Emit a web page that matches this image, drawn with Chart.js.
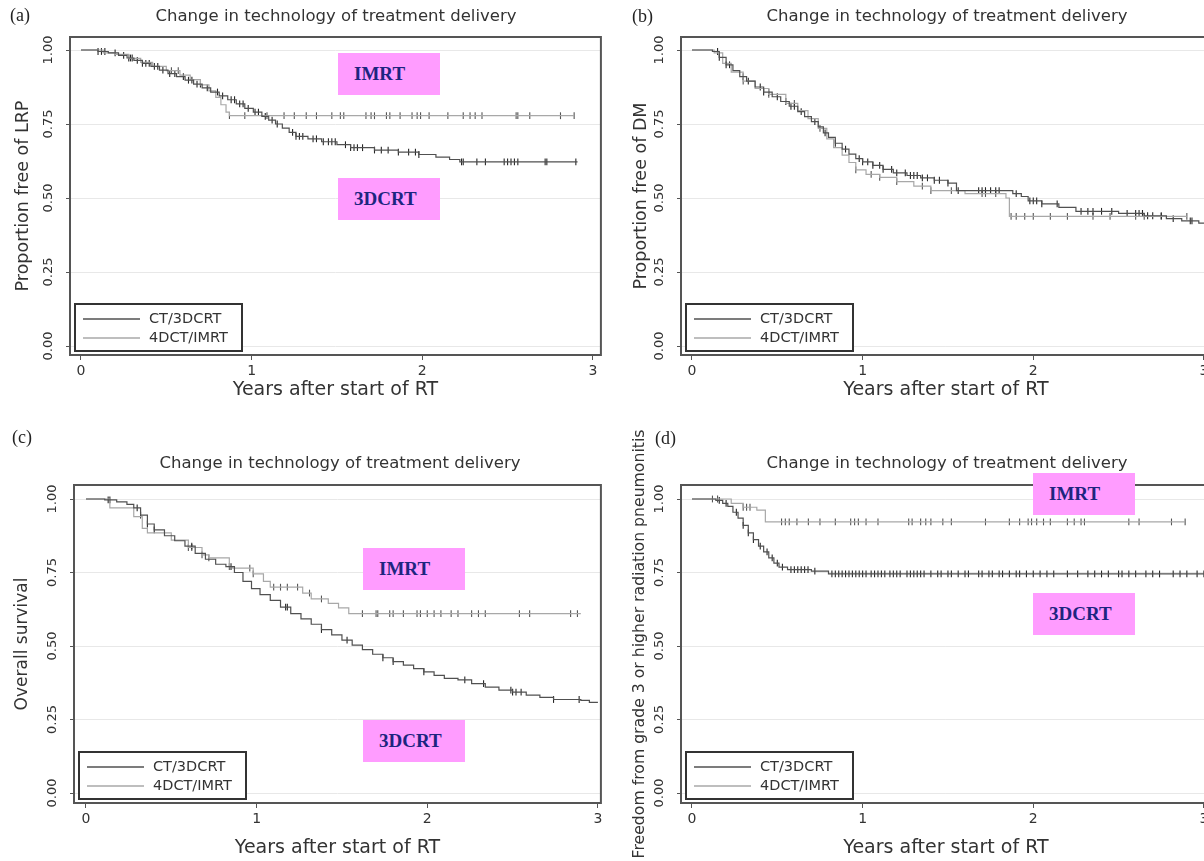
<!DOCTYPE html>
<html lang="en">
<head>
  <meta charset="UTF-8" />
  <title>Change in technology of treatment delivery</title>
  <script src="https://cdn.jsdelivr.net/npm/chart.js@4"></script>
  <style>
    body {
      margin: 0;
      background: #fff;
      font-family: 'DejaVu Sans', sans-serif;
      color: #333;
    }
    #fig {
      position: relative;
      width: 1204px;
      height: 861px;
      overflow: hidden;
    }
    #fig canvas { position: absolute; }
    .letter {
      position: absolute;
      font-family: 'Liberation Serif', serif;
      font-size: 18px;
      line-height: 20px;
      color: #222;
    }
    .title {
      position: absolute;
      width: 500px;
      text-align: center;
      font-size: 16.5px;
      line-height: 18px;
      color: #333;
    }
    .tag {
      position: absolute;
      width: 86px;
      height: 42px;
      padding-left: 16px;
      background: #ff9cff;
      color: #1d2580;
      font-family: 'Liberation Serif', serif;
      font-weight: bold;
      font-size: 19px;
      line-height: 42px;
    }
  </style>
</head>
<body>
  <div id="fig">
    <canvas id="ca" width="606" height="405" style="left:0;top:0"></canvas>
    <canvas id="cb" width="606" height="405" style="left:610px;top:0"></canvas>
    <canvas id="cc" width="606" height="431" style="left:0;top:430px"></canvas>
    <canvas id="cd" width="606" height="431" style="left:610px;top:430px"></canvas>

    <div class="letter" style="left:10px;top:5px">(a)</div>
    <div class="letter" style="left:632px;top:6px">(b)</div>
    <div class="letter" style="left:12px;top:427px">(c)</div>
    <div class="letter" style="left:655px;top:428px">(d)</div>

    <div class="title" style="left:86px;top:7px">Change in technology of treatment delivery</div>
    <div class="title" style="left:697px;top:7px">Change in technology of treatment delivery</div>
    <div class="title" style="left:90px;top:454px">Change in technology of treatment delivery</div>
    <div class="title" style="left:697px;top:454px">Change in technology of treatment delivery</div>

    <div class="tag" style="left:338px;top:53px">IMRT</div>
    <div class="tag" style="left:338px;top:178px">3DCRT</div>
    <div class="tag" style="left:363px;top:548px">IMRT</div>
    <div class="tag" style="left:363px;top:720px">3DCRT</div>
    <div class="tag" style="left:1033px;top:473px">IMRT</div>
    <div class="tag" style="left:1033px;top:593px">3DCRT</div>
  </div>

  <script>
    // axis ticks and series names
    const xTickValues = [0, 1, 2, 3];
    const yTickValues = [0, 0.25, 0.5, 0.75, 1];
    const seriesNames = ["CT/3DCRT", "4DCT/IMRT"];

    // (a) proportion free of LRP: [years, survival]
    const lrpCt = [[0,1],[0.10,0.995],[0.16,0.99],[0.22,0.982],[0.27,0.973],[0.31,0.965],[0.36,0.955],[0.41,0.945],[0.46,0.932],[0.51,0.92],[0.56,0.91],[0.61,0.898],[0.66,0.885],[0.71,0.872],[0.76,0.858],[0.81,0.845],[0.86,0.832],[0.91,0.818],[0.96,0.803],[1.01,0.79],[1.06,0.776],[1.10,0.763],[1.14,0.75],[1.18,0.736],[1.22,0.722],[1.26,0.708],[1.33,0.70],[1.41,0.69],[1.50,0.68],[1.58,0.67],[1.72,0.662],[1.86,0.655],[1.98,0.647],[2.08,0.638],[2.16,0.63],[2.22,0.622],[2.91,0.622]];
    const lrpIm = [[0,1],[0.13,0.99],[0.2,0.985],[0.28,0.972],[0.35,0.958],[0.42,0.945],[0.5,0.93],[0.58,0.915],[0.64,0.9],[0.7,0.882],[0.75,0.862],[0.79,0.84],[0.82,0.815],[0.85,0.79],[0.87,0.778],[2.89,0.778]];
    const lrpCtCens = [0.10,0.12,0.14,0.2,0.25,0.28,0.29,0.3,0.33,0.36,0.38,0.4,0.43,0.45,0.48,0.52,0.55,0.6,0.63,0.65,0.68,0.7,0.74,0.8,0.83,0.88,0.9,0.93,0.95,0.98,1.02,1.04,1.08,1.12,1.15,1.24,1.26,1.28,1.3,1.36,1.38,1.42,1.45,1.47,1.49,1.55,1.58,1.6,1.62,1.65,1.72,1.76,1.8,1.86,1.92,1.96,1.98,2.23,2.24,2.32,2.37,2.48,2.5,2.52,2.54,2.56,2.72,2.73,2.9];
    const lrpImCens = [0.53,0.57,0.87,0.96,1.09,1.19,1.25,1.32,1.38,1.47,1.52,1.54,1.67,1.70,1.72,1.79,1.81,1.87,1.94,1.97,1.99,2.04,2.15,2.24,2.28,2.31,2.35,2.55,2.56,2.63,2.81,2.89];

    // (b) proportion free of DM
    const dmCt = [[0,1],[0.12,0.995],[0.16,0.975],[0.2,0.95],[0.24,0.93],[0.28,0.91],[0.32,0.895],[0.37,0.875],[0.42,0.858],[0.47,0.842],[0.52,0.826],[0.57,0.81],[0.62,0.792],[0.66,0.775],[0.7,0.758],[0.74,0.74],[0.77,0.72],[0.8,0.705],[0.84,0.685],[0.88,0.665],[0.92,0.648],[0.96,0.633],[1.0,0.622],[1.06,0.61],[1.12,0.597],[1.18,0.585],[1.26,0.576],[1.34,0.568],[1.42,0.56],[1.5,0.55],[1.55,0.525],[1.88,0.515],[1.93,0.505],[1.97,0.49],[2.05,0.48],[2.15,0.468],[2.25,0.455],[2.5,0.448],[2.65,0.44],[2.78,0.43],[2.87,0.423],[2.97,0.415],[3.05,0.415]];
    const dmIm = [[0,1],[0.13,0.99],[0.18,0.955],[0.23,0.925],[0.3,0.895],[0.37,0.87],[0.45,0.85],[0.55,0.82],[0.62,0.795],[0.68,0.768],[0.74,0.735],[0.79,0.7],[0.83,0.67],[0.88,0.645],[0.92,0.62],[0.96,0.595],[1.02,0.58],[1.1,0.57],[1.2,0.555],[1.3,0.54],[1.4,0.525],[1.6,0.515],[1.84,0.5],[1.86,0.438],[2.9,0.438]];
    const dmCtCens = [0.15,0.16,0.2,0.22,0.3,0.33,0.4,0.42,0.45,0.5,0.55,0.58,0.6,0.64,0.72,0.78,0.84,0.9,0.98,1.0,1.03,1.06,1.1,1.12,1.17,1.2,1.25,1.28,1.3,1.32,1.35,1.38,1.42,1.45,1.5,1.56,1.68,1.7,1.72,1.75,1.78,1.8,1.9,1.98,2.0,2.02,2.05,2.14,2.28,2.32,2.35,2.4,2.46,2.55,2.6,2.62,2.64,2.67,2.7,2.75,2.82,2.92,2.93];
    const dmImCens = [0.3,0.45,0.6,0.75,0.96,1.05,1.1,1.2,1.35,1.4,1.52,1.7,1.72,1.78,1.87,1.9,1.95,2.0,2.1,2.2,2.35,2.45,2.6,2.65,2.75,2.9];

    // (c) overall survival
    const osCt = [[0,1],[0.11,0.997],[0.18,0.99],[0.24,0.982],[0.28,0.97],[0.32,0.945],[0.36,0.915],[0.4,0.895],[0.46,0.875],[0.52,0.858],[0.58,0.84],[0.64,0.815],[0.7,0.795],[0.76,0.778],[0.82,0.77],[0.87,0.75],[0.92,0.72],[0.97,0.695],[1.02,0.675],[1.08,0.655],[1.14,0.632],[1.2,0.61],[1.26,0.592],[1.32,0.574],[1.38,0.556],[1.44,0.538],[1.5,0.52],[1.56,0.503],[1.62,0.488],[1.68,0.472],[1.74,0.46],[1.8,0.447],[1.86,0.435],[1.92,0.423],[1.98,0.412],[2.04,0.4],[2.1,0.39],[2.18,0.385],[2.26,0.372],[2.34,0.36],[2.42,0.35],[2.5,0.343],[2.58,0.333],[2.66,0.325],[2.74,0.318],[2.9,0.315],[2.95,0.308],[3.0,0.308]];
    const osIm = [[0,1],[0.14,0.97],[0.28,0.94],[0.33,0.9],[0.36,0.885],[0.5,0.86],[0.6,0.835],[0.68,0.81],[0.72,0.8],[0.84,0.77],[0.86,0.765],[0.98,0.745],[1.04,0.72],[1.08,0.7],[1.27,0.68],[1.32,0.66],[1.42,0.645],[1.48,0.63],[1.54,0.61],[2.9,0.61]];
    const osCtCens = [0.13,0.14,0.3,0.32,0.36,0.4,0.62,0.85,1.17,1.18,1.38,1.53,1.74,1.8,1.98,2.22,2.33,2.49,2.5,2.52,2.55,2.74,2.89];
    const osImCens = [0.6,0.62,0.68,0.72,0.84,0.96,0.98,1.1,1.14,1.18,1.24,1.31,1.38,1.62,1.7,1.71,1.78,1.8,1.86,1.94,1.96,2.0,2.04,2.08,2.14,2.18,2.26,2.3,2.34,2.54,2.6,2.84,2.88];

    // (d) freedom from grade >= 3 radiation pneumonitis
    const rpCt = [[0,1],[0.14,0.995],[0.18,0.985],[0.21,0.975],[0.24,0.955],[0.27,0.935],[0.3,0.91],[0.33,0.885],[0.36,0.862],[0.39,0.84],[0.42,0.82],[0.45,0.8],[0.48,0.782],[0.51,0.768],[0.56,0.76],[0.7,0.755],[0.8,0.745],[3.05,0.745]];
    const rpIm = [[0,1],[0.23,0.985],[0.3,0.972],[0.38,0.962],[0.43,0.922],[2.89,0.922]];
    const rpCtCens = [0.16,0.2,0.26,0.3,0.33,0.36,0.4,0.44,0.47,0.5,0.53,0.58,0.6,0.62,0.64,0.66,0.68,0.72,0.82,0.84,0.86,0.88,0.9,0.92,0.94,0.96,0.98,1.0,1.02,1.05,1.07,1.09,1.11,1.13,1.16,1.18,1.2,1.22,1.26,1.28,1.3,1.32,1.34,1.36,1.4,1.44,1.46,1.5,1.52,1.56,1.6,1.62,1.68,1.7,1.74,1.76,1.8,1.82,1.86,1.9,1.92,1.96,2.0,2.04,2.08,2.12,2.2,2.26,2.32,2.36,2.4,2.44,2.5,2.52,2.56,2.6,2.66,2.7,2.74,2.82,2.86,2.9,2.96,3.0];
    const rpImCens = [0.12,0.15,0.3,0.32,0.34,0.525,0.547,0.57,0.615,0.682,0.75,0.84,0.93,0.953,0.975,1.02,1.09,1.27,1.29,1.34,1.37,1.4,1.47,1.52,1.72,1.86,1.92,1.97,1.99,2.02,2.06,2.1,2.2,2.24,2.28,2.3,2.56,2.62,2.81,2.89];

    const lineColors = ["#505050", "#a8a8a8"];
    const markColors = ["#262626", "#555555"];

    // value of a step curve at time t
    function survAt(curve, t) {
      let s = curve[0][1];
      for (const [time, surv] of curve) {
        if (time <= t) s = surv; else break;
      }
      return s;
    }

    // box round the plot and the legend in the lower left corner
    const framePlugin = {
      id: "frame",
      afterDatasetsDraw(chart) {
        const { ctx, chartArea: a } = chart;
        ctx.save();
        ctx.strokeStyle = "#555";
        ctx.lineWidth = 2;
        ctx.strokeRect(a.left, a.top, a.right - a.left, a.bottom - a.top);
        ctx.restore();
      },
      afterDraw(chart) {
        const { ctx, chartArea: a } = chart;
        const x = a.left + 5, y = a.bottom - 51, w = 167, h = 47;
        ctx.save();
        ctx.fillStyle = "#fff";
        ctx.fillRect(x, y, w, h);
        ctx.strokeStyle = "#333";
        ctx.lineWidth = 2;
        ctx.strokeRect(x, y, w, h);
        ctx.font = "14.5px 'DejaVu Sans'";
        ctx.textBaseline = "middle";
        chart.data.datasets.filter(d => !d.censor).forEach((d, i) => {
          const ly = y + 15 + i * 19;
          ctx.strokeStyle = d.borderColor;
          ctx.lineWidth = 1.4;
          ctx.beginPath();
          ctx.moveTo(x + 8, ly);
          ctx.lineTo(x + 65, ly);
          ctx.stroke();
          ctx.fillStyle = "#333";
          ctx.fillText(d.label, x + 74, ly);
        });
        ctx.restore();
      }
    };

    // page geometry of each panel (canvas and plot box)
    const panels = [
      { id: "ca", left: 0, top: 0, width: 606, height: 405, box: [70, 37, 602, 355], x0: 81, yTop: 50, yBot: 346,
        yTitle: "Proportion free of LRP", ySize: 17.5, yPad: 12.5, xPad: 4, curves: [lrpCt, lrpIm], cens: [lrpCtCens, lrpImCens] },
      { id: "cb", left: 610, top: 0, width: 606, height: 405, box: [681, 37, 1212, 355], x0: 692, yTop: 50, yBot: 346,
        yTitle: "Proportion free of DM", ySize: 17.5, yPad: 20.5, xPad: 4, curves: [dmCt, dmIm], cens: [dmCtCens, dmImCens] },
      { id: "cc", left: 0, top: 430, width: 606, height: 431, box: [74, 485, 602, 803], x0: 86, yTop: 499, yBot: 793,
        yTitle: "Overall survival", ySize: 17, yPad: 12.8, xPad: 1.6, curves: [osCt, osIm], cens: [osCtCens, osImCens] },
      { id: "cd", left: 610, top: 430, width: 606, height: 431, box: [681, 485, 1212, 803], x0: 692, yTop: 499, yBot: 793,
        yTitle: "Freedom from grade 3 or higher radiation pneumonitis", ySize: 15.7, yPad: 20.6, xPad: 1.6, curves: [rpCt, rpIm], cens: [rpCtCens, rpImCens] }
    ];

    const pxPerYear = 171;

    panels.forEach(p => {
      const [L, T, R, B] = p.box;
      const yPer = p.yBot - p.yTop;

      const datasets = [];
      p.curves.forEach((curve, i) => {
        datasets.push({
          label: seriesNames[i],
          data: curve.map(([x, y]) => ({ x, y })),
          borderColor: lineColors[i],
          borderWidth: 1.2,
          stepped: true,
          pointRadius: 0,
          fill: false
        });
      });
      p.cens.forEach((times, i) => {
        datasets.push({
          label: seriesNames[i] + " censored",
          censor: true,
          data: times.map(t => ({ x: t, y: survAt(p.curves[i], t) })),
          showLine: false,
          pointStyle: "line",
          rotation: 90,
          pointRadius: 3.4,
          pointBorderWidth: 1.1,
          borderColor: markColors[i],
          backgroundColor: markColors[i]
        });
      });

      new Chart(document.getElementById(p.id), {
        type: "line",
        data: { datasets },
        options: {
          responsive: false,
          animation: false,
          events: [],
          layout: { padding: { top: T - p.top, right: p.left + p.width - R, left: 0, bottom: 0 } },
          plugins: { legend: { display: false }, tooltip: { enabled: false } },
          scales: {
            x: {
              type: "linear",
              min: (L - p.x0) / pxPerYear,
              max: (R - p.x0) / pxPerYear,
              afterBuildTicks: s => { s.ticks = xTickValues.map(v => ({ value: v })); },
              afterFit: s => { s.height = p.top + p.height - B; },
              grid: { drawOnChartArea: false, tickLength: 5, tickColor: "#555" },
              border: { display: false },
              ticks: { color: "#333", font: { family: "DejaVu Sans", size: 14 }, padding: 3,
                       maxRotation: 0, callback: v => String(v) },
              title: { display: true, text: "Years after start of RT", color: "#333",
                       font: { family: "DejaVu Sans", size: 19 }, padding: { top: 0, bottom: p.xPad } }
            },
            y: {
              min: -(B - p.yBot) / yPer,
              max: 1 + (p.yTop - T) / yPer,
              afterBuildTicks: s => { s.ticks = yTickValues.map(v => ({ value: v })); },
              afterFit: s => { s.width = L - p.left; },
              grid: { color: "#e8e8e8", lineWidth: 1, tickLength: 4, tickColor: "#555" },
              border: { display: false },
              ticks: { color: "#333", font: { family: "DejaVu Sans", size: 13 }, padding: 3,
                       minRotation: 90, maxRotation: 90, crossAlign: "center",
                       callback: v => v.toFixed(2) },
              title: { display: true, text: p.yTitle, color: "#333",
                       font: { family: "DejaVu Sans", size: p.ySize }, padding: { top: p.yPad, bottom: 0 } }
            }
          }
        },
        plugins: [framePlugin]
      });
    });
  </script>
</body>
</html>
